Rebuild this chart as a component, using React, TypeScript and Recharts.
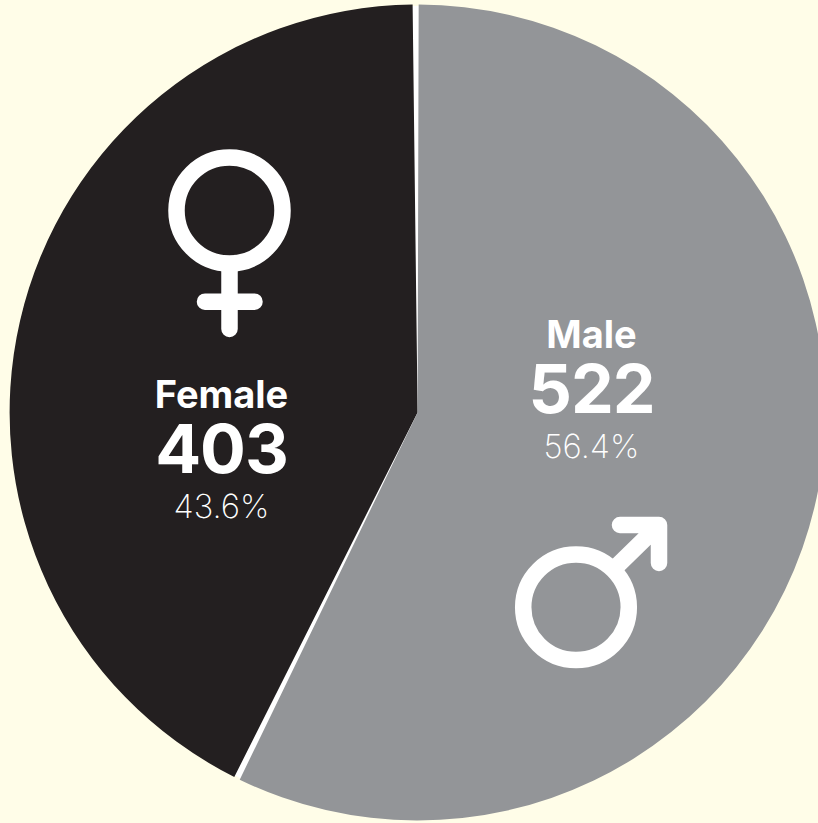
import React from "react";
import { PieChart, Pie, Cell } from "recharts";

const categories = ["Female", "Male"];
const counts = [403, 522];
const shareLabels = ["43.6%", "56.4%"];
// slice sweep (degrees of arc)
const drawnSweep = [152.6, 205.7];
const colors = ["#231F20", "#939598"];

const data = categories.map((name, i) => ({ name, value: drawnSweep[i] }));
const font = "Inter, sans-serif";
const textAnchors = [{ x: 221.5, y: 408 }, { x: 591.5, y: 348 }];

const FemaleSign = () => (
  <g fill="none" stroke="#fff" strokeWidth={16.5} strokeLinecap="round" strokeLinejoin="round">
    <circle cx={229.5} cy={210.5} r={53} />
    <path d="M229.5 265V329M205 301.7H254.5" />
  </g>
);
const MaleSign = () => (
  <g fill="none" stroke="#fff" strokeWidth={16.5} strokeLinecap="round" strokeLinejoin="round">
    <circle cx={576} cy={607.3} r={52.8} />
    <path d="M620 525H659V563M617 566L659 525" />
  </g>
);

const renderLabel = ({ index }: { index: number }) => {
  const { x, y } = textAnchors[index];
  return (
    <g key={index}>
      {index === 0 ? <FemaleSign /> : <MaleSign />}
      <g fill="#fff" textAnchor="middle" fontFamily={font}>
        <text x={x} y={y} fontSize={38} fontWeight={700}>{categories[index]}</text>
        <text x={x} y={y + 65} fontSize={68} fontWeight={700} letterSpacing={-1}>{counts[index]}</text>
        <text x={x} y={y + 110} fontSize={33} fontWeight={200}>{shareLabels[index]}</text>
      </g>
    </g>
  );
};

export default function App() {
  return (
    <div style={{ position: "fixed", inset: 0, width: 818, height: 823, background: "#FFFDE8", overflow: "hidden" }}>
      <PieChart width={818} height={823} margin={{ top: 0, right: 0, bottom: 0, left: 0 }}>
        <Pie data={[{ name: "base", value: 1 }]} dataKey="value" cx={417.6} cy={412.5} outerRadius={406.5} innerRadius={0} startAngle={90} endAngle={450} stroke="none" fill="#fff" isAnimationActive={false} />
        <Pie data={data} dataKey="value" nameKey="name" cx={417.6} cy={412.5} outerRadius={408} innerRadius={0} startAngle={90.7} endAngle={450.7} paddingAngle={0.85} stroke="none" label={renderLabel} labelLine={false} isAnimationActive={false}>
          {data.map((d, i) => <Cell key={d.name} fill={colors[i]} />)}
        </Pie>
      </PieChart>
    </div>
  );
}
